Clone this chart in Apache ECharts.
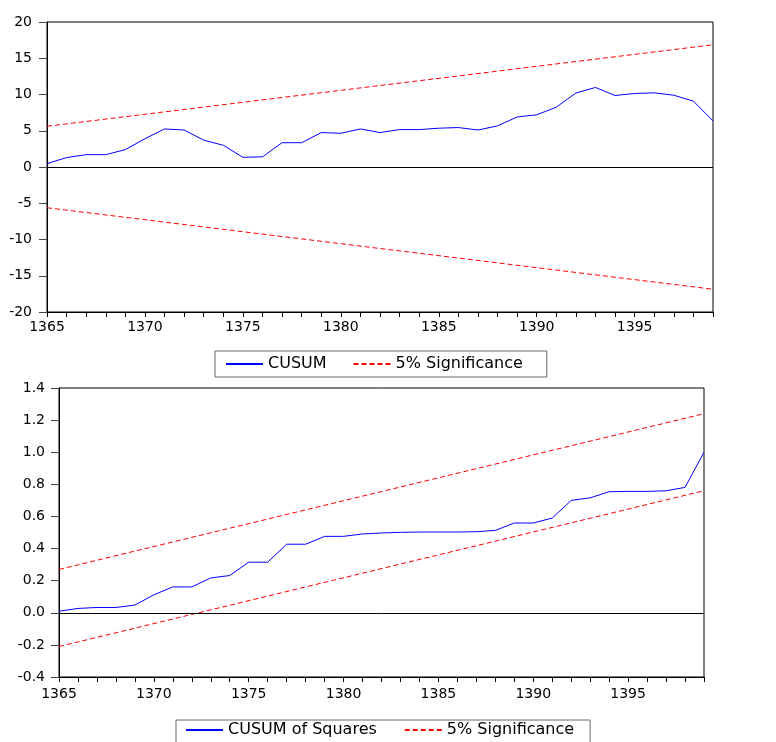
<!DOCTYPE html>
<html><head><meta charset="utf-8">
<script src="https://cdn.jsdelivr.net/npm/echarts@6/dist/echarts.min.js"></script>
<style>html,body{margin:0;padding:0;background:#fff}#c{width:776px;height:742px}</style>
</head><body><div id="c"></div>
<script>
// ---- data ----
const years = ['1365','1366','1367','1368','1369','1370','1371','1372','1373','1374',
  '1375','1376','1377','1378','1379','1380','1381','1382','1383','1384',
  '1385','1386','1387','1388','1389','1390','1391','1392','1393','1394',
  '1395','1396','1397','1398','1399'];
const xTickLabels = ['1365','1370','1375','1380','1385','1390','1395'];
const cusum = [0.46,1.3,1.7,1.7,2.4,3.9,5.25,5.1,3.7,3.0,
  1.34,1.4,3.35,3.35,4.75,4.65,5.25,4.75,5.16,5.16,
  5.35,5.44,5.1,5.67,6.9,7.2,8.25,10.2,10.97,9.86,
  10.14,10.23,9.9,9.08,6.36];
const cusumSq = [0.010,0.027,0.033,0.033,0.048,0.112,0.161,0.161,0.217,0.232,
  0.315,0.315,0.427,0.427,0.476,0.476,0.491,0.497,0.501,0.503,
  0.503,0.503,0.505,0.513,0.559,0.559,0.590,0.700,0.716,0.754,
  0.756,0.756,0.760,0.781,1.0];
const sigYears = ['1365','1399'];
const cusumUpper = [5.62, 16.86];
const cusumLower = [-5.62, -16.86];
const sqUpper = [0.27, 1.24];
const sqLower = [-0.21, 0.76];
const cusumTicks = [-20,-15,-10,-5,0,5,10,15,20];
const sqTicks = ['-0.4','-0.2','0.0','0.2','0.4','0.6','0.8','1.0','1.2','1.4'];

// ---- chart ----
const FONT = 'DejaVu Sans';
const pair = (xs, ys) => xs.map((x, i) => [x, ys[i]]);
const chart = echarts.init(document.getElementById('c'), null, {renderer: 'canvas'});

function xAxis(gridIndex, margin) {
  return {
    type: 'category', gridIndex, data: years, boundaryGap: false,
    axisLine: {show: true, onZero: false, lineStyle: {color: '#000', width: 1}},
    axisTick: {show: true, interval: 0, length: 5, inside: false, lineStyle: {color: '#000'}},
    axisLabel: {show: true, interval: (i, v) => xTickLabels.includes(v), margin,
      color: '#000', fontFamily: FONT, fontSize: 14},
    splitLine: {show: false}
  };
}
function yAxis(gridIndex, ticks, fmt, margin) {
  const a = parseFloat(ticks[0]), b = parseFloat(ticks[1]), z = parseFloat(ticks[ticks.length - 1]);
  return {
    type: 'value', gridIndex, min: a, max: z, interval: Math.round((b - a) * 1000) / 1000,
    axisLine: {show: true, lineStyle: {color: '#000', width: 1}},
    axisTick: {show: true, length: 8, inside: false, lineStyle: {color: '#444'}},
    axisLabel: {show: true, margin, color: '#000', fontFamily: FONT, fontSize: 14, formatter: fmt},
    splitLine: {show: false}
  };
}
const blue = {color: '#0000ff', width: 1};
const redDash = {color: '#ff0000', width: 1, type: [5, 3]};
const zeroLine = {
  silent: true, symbol: 'none', label: {show: false},
  lineStyle: {color: '#000', width: 1, type: 'solid'},
  data: [{yAxis: 0}]
};
const legendBase = {
  orient: 'horizontal', itemWidth: 37, itemHeight: 14,
  borderColor: '#666', borderWidth: 1, backgroundColor: '#fff',
  itemStyle: {opacity: 0}, lineStyle: {inactiveWidth: 1},
  textStyle: {fontFamily: FONT, fontSize: 16, color: '#000'}, selectedMode: false
};

chart.setOption({
  animation: false,
  backgroundColor: '#fff',
  grid: [
    {left: 47, top: 22, width: 666, height: 290, show: true, borderColor: '#000', borderWidth: 1,
     backgroundColor: 'transparent', containLabel: false, outerBoundsMode: 'none'},
    {left: 59, top: 388, width: 645, height: 289, show: true, borderColor: '#000', borderWidth: 1,
     backgroundColor: 'transparent', containLabel: false, outerBoundsMode: 'none'}
  ],
  xAxis: [xAxis(0, 8), xAxis(1, 10)],
  yAxis: [
    yAxis(0, cusumTicks, v => String(v), 15),
    yAxis(1, sqTicks, v => v.toFixed(1), 14)
  ],
  legend: [
    Object.assign({}, legendBase, {data: ['CUSUM', '5% Significance'], left: 215, top: 351,
      itemGap: 26, padding: [5, 24, 5, 10]}),
    Object.assign({}, legendBase, {data: ['CUSUM of Squares', '5% Significance'], left: 176, top: 720,
      itemGap: 27, padding: [2, 16, 8, 9]})
  ],
  series: [
    {name: 'CUSUM', type: 'line', xAxisIndex: 0, yAxisIndex: 0, data: cusum,
     symbol: 'none', lineStyle: blue, itemStyle: {color: '#0000ff'}, markLine: zeroLine, z: 3},
    {name: '5% Significance', type: 'line', xAxisIndex: 0, yAxisIndex: 0, data: pair(sigYears, cusumUpper),
     symbol: 'none', lineStyle: redDash, itemStyle: {color: '#ff0000'}},
    {name: '5% Significance', type: 'line', xAxisIndex: 0, yAxisIndex: 0, data: pair(sigYears, cusumLower),
     symbol: 'none', lineStyle: redDash, itemStyle: {color: '#ff0000'}},
    {name: 'CUSUM of Squares', type: 'line', xAxisIndex: 1, yAxisIndex: 1, data: cusumSq,
     symbol: 'none', lineStyle: blue, itemStyle: {color: '#0000ff'}, markLine: zeroLine, z: 3},
    {name: '5% Significance', type: 'line', xAxisIndex: 1, yAxisIndex: 1, data: pair(sigYears, sqUpper),
     symbol: 'none', lineStyle: redDash, itemStyle: {color: '#ff0000'}},
    {name: '5% Significance', type: 'line', xAxisIndex: 1, yAxisIndex: 1, data: pair(sigYears, sqLower),
     symbol: 'none', lineStyle: redDash, itemStyle: {color: '#ff0000'}}
  ]
});
</script>
</body></html>
